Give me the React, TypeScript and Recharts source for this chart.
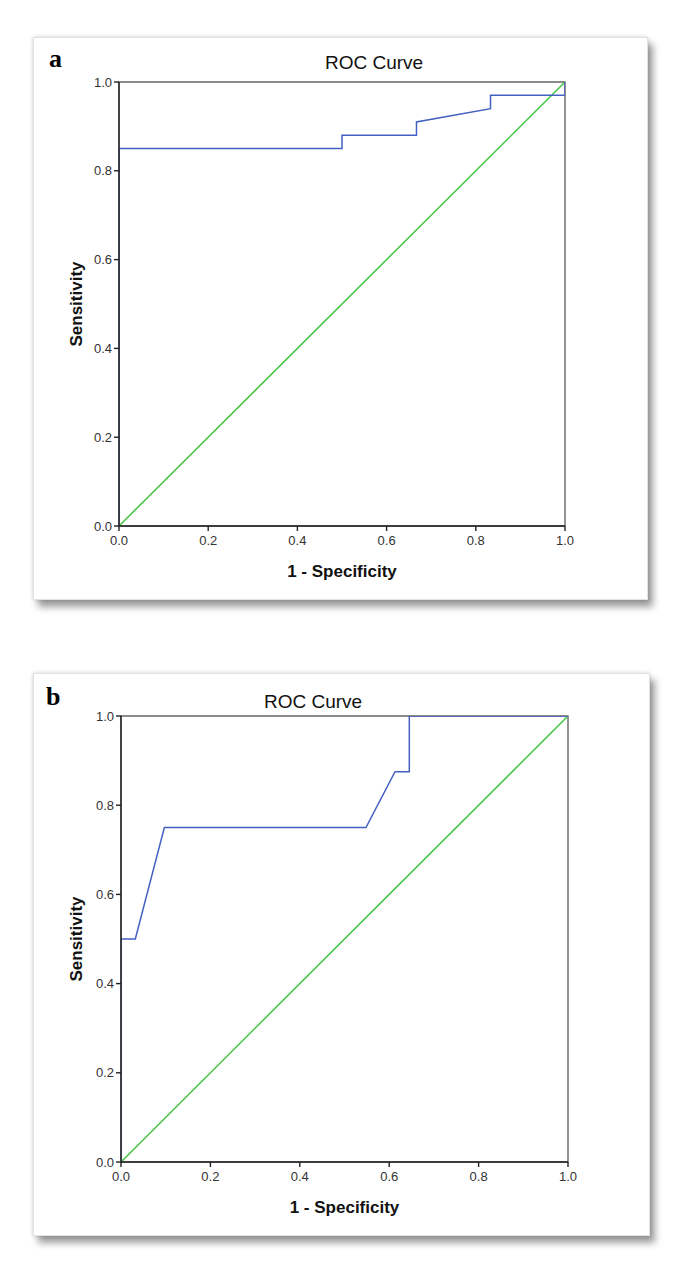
import { ComposedChart, Line, XAxis, YAxis, ReferenceArea, Label } from "recharts";

const TICKS = [0, 0.2, 0.4, 0.6, 0.8, 1.0];

// panel a: 1 - specificity / sensitivity
const rocAFpr = [0, 0, 0.5, 0.5, 0.667, 0.667, 0.833, 0.833, 1, 1];
const rocATpr = [0, 0.85, 0.85, 0.88, 0.88, 0.91, 0.94, 0.97, 0.97, 1];

// panel b
const rocBFpr = [0, 0, 0.032, 0.097, 0.548, 0.613, 0.645, 0.645, 1];
const rocBTpr = [0, 0.5, 0.5, 0.75, 0.75, 0.875, 0.875, 1, 1];

// reference diagonal
const refFpr = [0, 1];
const refTpr = [0, 1];

const BLUE = "#4361c2";
const GREEN = "#43c443";
const AXIS = "#222";

const toPoints = (xs: number[], ys: number[]) => xs.map((x, i) => ({ x, y: ys[i] }));

type PanelProps = {
  letter: string;
  left: number;
  top: number;
  width: number;
  height: number;
  yAxisW: number;
  mTop: number;
  mRight: number;
  xAxisH: number;
  titleX: number;
  titleY: number;
  letterX: number;
  letterY: number;
  fpr: number[];
  tpr: number[];
};

const tickStyle = { fontSize: 13, fill: "#333", fontFamily: "'Liberation Sans', Arial, sans-serif" };

const RocPanel = (p: PanelProps) => {
  const curve = toPoints(p.fpr, p.tpr);
  const diag = toPoints(refFpr, refTpr);
  return (
    <div
      style={{
        position: "absolute",
        left: p.left,
        top: p.top,
        width: p.width,
        height: p.height,
        background: "#fff",
        border: "1px solid #e2e2e2",
        boxSizing: "border-box",
        boxShadow: "0 0 4px rgba(0,0,0,0.18), 5px 7px 7px rgba(0,0,0,0.38)",
      }}
    >
      <div
        style={{
          position: "absolute",
          left: p.letterX,
          top: p.letterY,
          fontFamily: "'Liberation Serif', 'Times New Roman', serif",
          fontWeight: "bold",
          fontSize: 26,
          lineHeight: "26px",
        }}
      >
        {p.letter}
      </div>
      <div
        style={{
          position: "absolute",
          left: p.titleX - 100,
          width: 200,
          top: p.titleY - 11,
          textAlign: "center",
          fontFamily: "'Liberation Sans', Arial, sans-serif",
          fontSize: 19,
          lineHeight: "22px",
          color: "#111",
        }}
      >
        ROC Curve
      </div>
      <ComposedChart
        width={p.width - 2}
        height={p.height - 2}
        margin={{ top: p.mTop, right: p.mRight, bottom: 0, left: 0 }}
        style={{ position: "absolute", left: 0, top: 0 }}
      >
        <XAxis
          type="number"
          dataKey="x"
          domain={[0, 1]}
          ticks={TICKS}
          tickFormatter={(v: number) => v.toFixed(1)}
          height={p.xAxisH}
          tickSize={5}
          tickMargin={5}
          tick={tickStyle}
          axisLine={{ stroke: AXIS, strokeWidth: 1.4 }}
          tickLine={{ stroke: AXIS, strokeWidth: 1.4 }}
          allowDataOverflow
        >
          <Label
            value="1 - Specificity"
            position="insideBottom"
            offset={22}
            style={{ fontSize: 17, fontWeight: "bold", fill: "#111", fontFamily: "'Liberation Sans', Arial, sans-serif" }}
          />
        </XAxis>
        <YAxis
          type="number"
          domain={[0, 1]}
          ticks={TICKS}
          tickFormatter={(v: number) => v.toFixed(1)}
          width={p.yAxisW}
          tickSize={5}
          tickMargin={2}
          tick={tickStyle}
          axisLine={{ stroke: AXIS, strokeWidth: 1.4 }}
          tickLine={{ stroke: AXIS, strokeWidth: 1.4 }}
          allowDataOverflow
        >
          <Label
            value="Sensitivity"
            angle={-90}
            position="insideLeft"
            offset={42}
            style={{ textAnchor: "middle", fontSize: 17, fontWeight: "bold", fill: "#111", fontFamily: "'Liberation Sans', Arial, sans-serif" }}
          />
        </YAxis>
        <ReferenceArea x1={0} x2={1} y1={0} y2={1} fill="none" fillOpacity={0} stroke="#666" strokeWidth={1.4} />
        <Line
          data={diag}
          dataKey="y"
          type="linear"
          stroke={GREEN}
          strokeWidth={1.5}
          dot={false}
          activeDot={false}
          isAnimationActive={false}
        />
        <Line
          data={curve}
          dataKey="y"
          type="linear"
          stroke={BLUE}
          strokeWidth={1.5}
          dot={false}
          activeDot={false}
          isAnimationActive={false}
        />
      </ComposedChart>
    </div>
  );
};

export default function App() {
  return (
    <div style={{ position: "absolute", left: 0, top: 0, width: 685, height: 1273, background: "#fff" }}>
      <RocPanel
        letter="a"
        left={33}
        top={37}
        width={615}
        height={563}
        yAxisW={85}
        mTop={44}
        mRight={82}
        xAxisH={73}
        titleX={340}
        titleY={25}
        letterX={15}
        letterY={8}
        fpr={rocAFpr}
        tpr={rocATpr}
      />
      <RocPanel
        letter="b"
        left={33}
        top={673}
        width={617}
        height={563}
        yAxisW={87}
        mTop={42}
        mRight={81}
        xAxisH={73}
        titleX={279}
        titleY={28}
        letterX={12}
        letterY={10}
        fpr={rocBFpr}
        tpr={rocBTpr}
      />
    </div>
  );
}
